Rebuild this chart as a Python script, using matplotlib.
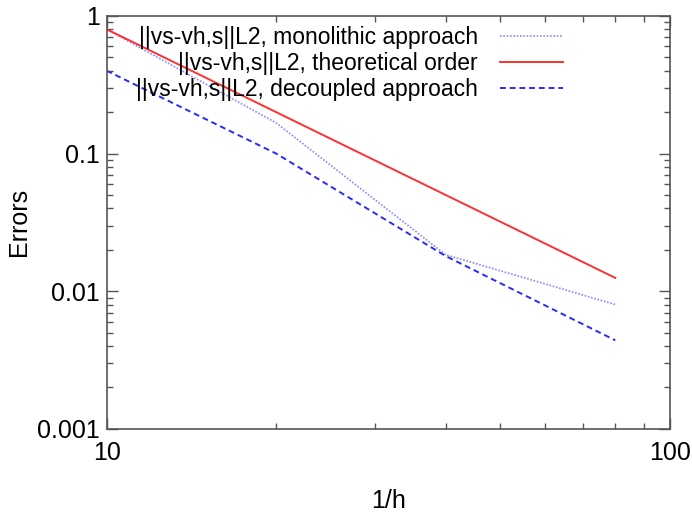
import matplotlib
matplotlib.use("Agg")
import matplotlib.pyplot as plt
from matplotlib.ticker import LogLocator, NullFormatter, FixedFormatter, FixedLocator

plt.rcParams['font.family'] = ['Liberation Sans', 'DejaVu Sans']

inv_h = [10, 20, 40, 80]
err_mono = [0.8, 0.167, 0.0184, 0.0080]
err_theory = [0.8, 0.2, 0.05, 0.0125]
err_decoupled = [0.4, 0.1, 0.018, 0.0044]

fig = plt.figure(figsize=(6.92, 5.13), dpi=100)
ax = fig.add_axes([0.154, 0.164, 0.814, 0.805])

ax.plot(inv_h, err_mono, color='#8888ff', lw=1.2, ls=(0, (1, 1)),
        label='||vs-vh,s||L2, monolithic approach')
ax.plot(inv_h, err_theory, color='#ff3030', lw=1.4, ls='-',
        label='||vs-vh,s||L2, theoretical order')
ax.plot(inv_h, err_decoupled, color='#2a2aff', lw=1.4, ls=(0, (3, 2)),
        label='||vs-vh,s||L2, decoupled approach')

ax.set_xscale('log')
ax.set_yscale('log')
ax.set_xlim(10, 100)
ax.set_ylim(0.001, 1)

ax.xaxis.set_major_locator(FixedLocator([10, 100]))
ax.xaxis.set_major_formatter(FixedFormatter(['10', '100']))
ax.xaxis.set_minor_locator(LogLocator(base=10, subs=range(2, 10)))
ax.xaxis.set_minor_formatter(NullFormatter())
ax.yaxis.set_major_locator(FixedLocator([0.001, 0.01, 0.1, 1]))
ax.yaxis.set_major_formatter(FixedFormatter(['0.001', '0.01', '0.1', '1']))
ax.yaxis.set_minor_locator(LogLocator(base=10, subs=range(2, 10)))
ax.yaxis.set_minor_formatter(NullFormatter())

ax.tick_params(which='both', direction='in', top=True, right=True,
               color='#555555', labelsize=18)
ax.tick_params(which='major', length=8, width=1)
ax.tick_params(which='minor', length=4, width=1)
ax.tick_params(axis='x', pad=9)
ax.tick_params(axis='y', pad=5)
for s in ax.spines.values():
    s.set_color('#555555')
    s.set_linewidth(1.2)

ax.set_xlabel('1/h', fontsize=18, labelpad=17)
ax.set_ylabel('Errors', fontsize=18, labelpad=4)

leg = ax.legend(loc='upper right', bbox_to_anchor=(0.81, 0.975), frameon=False,
                markerfirst=False, fontsize=16.5, handlelength=2.75,
                labelspacing=0.12, borderaxespad=0, borderpad=0,
                handletextpad=0.95)

fig.savefig('out.png', dpi=100)
